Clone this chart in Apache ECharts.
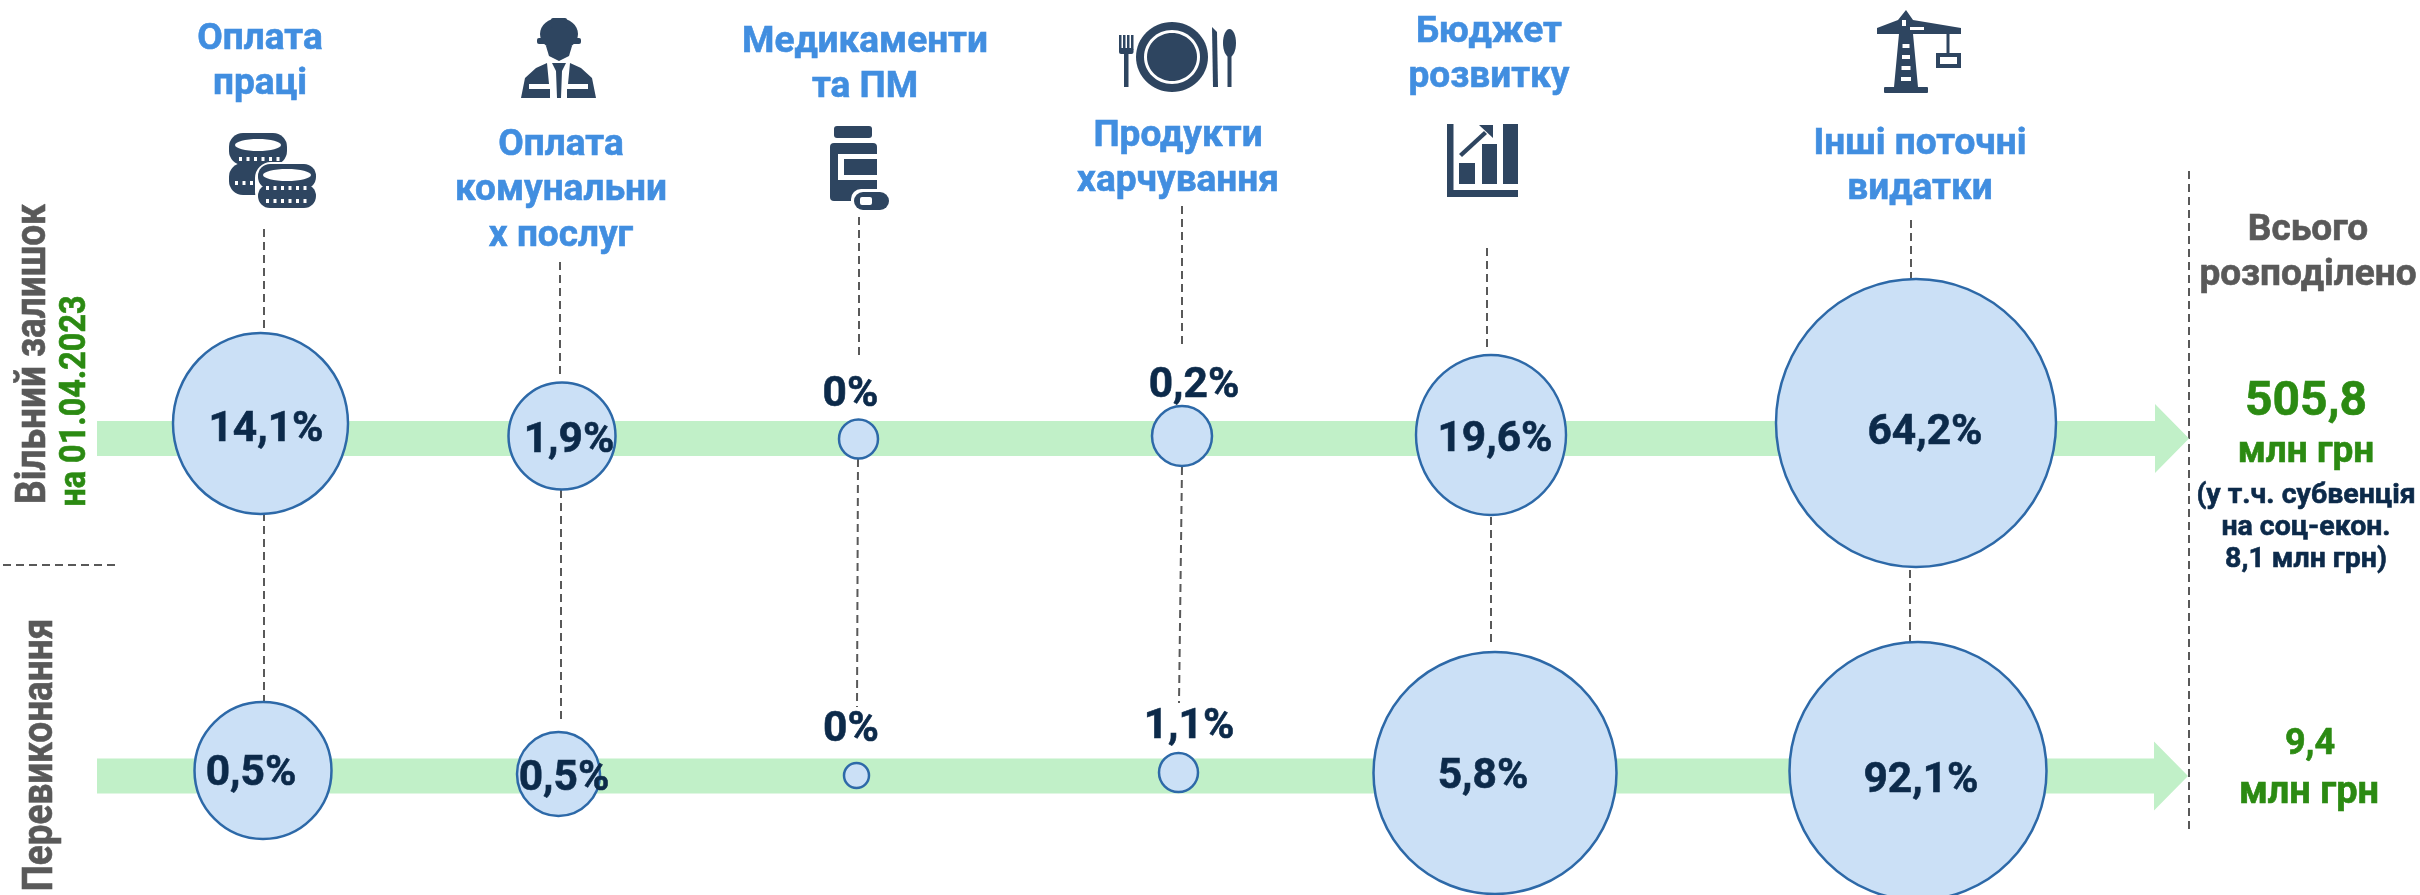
<!DOCTYPE html>
<html>
<head>
<meta charset="utf-8">
<style>
  html, body { margin: 0; padding: 0; background: #fff; }
  #chart { width: 2420px; height: 895px; }
</style>
<script src="https://cdn.jsdelivr.net/npm/echarts@6/dist/echarts.min.js"></script>
</head>
<body>
<div id="chart"></div>
<script>
// данные
const categories = ['Оплата\nпраці', 'Оплата\nкомунальни\nх послуг', 'Медикаменти\nта ПМ', 'Продукти\nхарчування', 'Бюджет\nрозвитку', 'Інші поточні\nвидатки']
const rowNames = ['Вільний залишок', 'Перевиконання']
const surplusShares = [14.1, 1.9, 0, 0.2, 19.6, 64.2]
const overShares = [0.5, 0.5, 0, 1.1, 5.8, 92.1]
const allocated = [505.8, 9.4]

// розкладка: кола в оригіналі розставлені вручну, їх розмір не пропорційний значенню
const bubbleX = [[260.5, 562, 858.5, 1182, 1491, 1916], [263, 558.5, 856.5, 1178.5, 1495, 1918]]
const bubbleY = [[423.5, 436, 439, 436, 435, 423], [770.5, 774, 775.5, 772.5, 773, 771]]
const bubbleW = [[175, 107, 39, 60, 150, 280], [137, 83, 25, 39, 243, 257]]
const bubbleH = [[181, 107, 39, 60, 160, 288], [137, 84, 25, 39, 242, 258]]
const labelX = [[266, 569, 850.5, 1194, 1495, 1925], [251, 564, 851, 1189, 1483, 1921]]
const labelY = [[430, 441, 395, 386, 440, 433], [774, 779, 730, 727, 777, 781]]
const rowY = [438.5, 776]
const arrowFrom = 97
const arrowBase = [2155, 2154]
const arrowTip = [2189, 2188]
const headerX = [260, 561, 865, 1178, 1489, 1920]
const headerY = [62, 191, 65, 159, 55, 167]

const blue = '#418ee0'
const navy = '#0c2a4a'
const grey = '#595959'
const green = '#2b8a12'
const iconColor = '#2e4560'
const font = 'Roboto, sans-serif'

const fmtNum = v => String(v).replace('.', ',')

function bubbleSeries(shares, r) {
  return {
    type: 'scatter',
    clip: false,
    z: 3,
    itemStyle: { color: '#cbe0f6', borderColor: '#2d69a8', borderWidth: 2.5, opacity: 1 },
    data: shares.map((v, i) => ({
      value: [bubbleX[r][i], rowNames[r], v],
      symbolSize: [bubbleW[r][i], bubbleH[r][i]],
      symbolOffset: [0, bubbleY[r][i] - rowY[r]],
      label: {
        show: true,
        position: 'inside',
        offset: [labelX[r][i] - bubbleX[r][i], labelY[r][i] - bubbleY[r][i]],
        formatter: fmtNum(v) + '%',
        color: navy,
        textBorderColor: navy,
        textBorderWidth: 0.6,
        fontFamily: font,
        fontWeight: 'bold',
        fontSize: 42.5
      }
    }))
  }
}

function arrowItem(params, api) {
  const r = params.dataIndex
  const row = api.value(1)
  const start = api.coord([arrowFrom, row])
  const base = api.coord([arrowBase[r], row])
  const tip = api.coord([arrowTip[r], row])
  const y = start[1]
  return {
    type: 'polygon',
    shape: { points: [
      [start[0], y - 17.5], [base[0], y - 17.5], [base[0], y - 34.5], [tip[0], y],
      [base[0], y + 34.5], [base[0], y + 17.5], [start[0], y + 17.5]
    ] },
    style: { fill: '#c1f0c8' }
  }
}

// підписи
function txt(text, x, y, size, color, extra, lineHeight) {
  return Object.assign({
    type: 'text', x, y, z: 10,
    style: {
      text, align: 'center', verticalAlign: 'middle', fill: color, stroke: color, lineWidth: 0.6,
      font: `bold ${size}px ${font}`, lineHeight: lineHeight || Math.round(size * 1.25)
    }
  }, extra || {})
}

function dash(x1, y1, x2, y2) {
  return {
    type: 'line', z: 1,
    shape: { x1, y1, x2, y2 },
    style: { stroke: grey, lineWidth: 2, lineDash: [8, 5] }
  }
}

// примітиви для іконок
const rect = (x, y, width, height, r, fill) => ({ type: 'rect', shape: { x, y, width, height, r: r || 0 }, style: { fill: fill || iconColor } })
const poly = (points, fill) => ({ type: 'polygon', shape: { points }, style: { fill: fill || iconColor } })
const ell = (cx, cy, rx, ry, fill) => ({ type: 'ellipse', shape: { cx, cy, rx, ry }, style: { fill: fill || iconColor } })
const icon = (x, y, children) => ({ type: 'group', x, y, z: 5, children })

function coinDots(x0, y, n) {
  const out = []
  for (let i = 0; i < n; i++) out.push(rect(x0 + i * 7.5, y, 3, 4, 0, '#fff'))
  return out
}

const coinsIcon = icon(229, 133, [
  rect(0, 0, 58, 32, 14), ell(29, 12, 23, 6, '#fff'), ...coinDots(10, 24, 6),
  rect(0, 30, 58, 32, 14), ...coinDots(6, 48, 3),
  rect(26, 29, 61, 46, 16, '#fff'),
  rect(29, 31, 58, 25, 12), rect(29, 51, 58, 24, 12),
  ell(58, 42, 24, 6, '#fff'), ...coinDots(37, 53, 6), ...coinDots(37, 66, 6)
])

const workerIcon = icon(521, 18, [
  ell(38, 16, 19, 16), rect(30, 0, 16, 10, 2), rect(16, 20, 44, 6, 2),
  poly([[25, 28], [51, 28], [48, 38], [38, 43], [28, 38]]),
  poly([[0, 80], [4, 60], [15, 50], [26, 45], [28, 66], [8, 66], [8, 71], [29, 71], [29, 80]]),
  poly([[75, 80], [71, 60], [60, 50], [49, 45], [47, 66], [67, 66], [67, 71], [46, 71], [46, 80]]),
  poly([[31, 45], [45, 45], [41, 53], [40, 80], [36, 80], [35, 53]])
])

const bottleIcon = icon(830, 126, [
  rect(4, 0, 38, 12, 3), rect(0, 17, 47, 58, 4),
  rect(8, 28, 39, 26, 0, '#fff'), rect(14, 33, 33, 16),
  rect(21, 63, 38, 22, 10, '#fff'), rect(24, 66, 35, 18, 9), rect(30, 71, 12, 8, 2, '#fff')
])

const plateIcon = icon(1119, 22, [
  ell(53, 35, 36, 35), ell(53, 35, 28, 27, '#fff'), ell(53, 35, 25, 24),
  rect(0, 13, 2.5, 15), rect(4, 13, 2.5, 15), rect(8, 13, 2.5, 15), rect(12, 13, 2.5, 15),
  rect(0, 26, 14.5, 6, 2), rect(5, 30, 4.5, 35),
  poly([[93, 5], [98, 10], [99, 65], [94, 65]]),
  ell(110.5, 21, 6.5, 14), rect(108.5, 30, 4, 35)
])

const chartIcon = icon(1447, 124, [
  rect(0, 0, 6.5, 73), rect(0, 66, 71, 7),
  rect(12, 39, 16, 21), rect(35, 20, 15, 40), rect(56, 0, 15, 60),
  poly([[12, 30], [37, 7], [40, 10], [15, 33]]), poly([[32, 1], [46, 1], [46, 14]])
])

const craneIcon = icon(1877, 10, [
  poly([[29, 0], [36, 10], [84, 18], [84, 24], [0, 24], [0, 18], [21, 10]]),
  poly([[22, 24], [36, 24], [41, 77], [17, 77]]),
  rect(7, 77, 44, 6, 1),
  rect(25, 10, 4, 6, 0, '#fff'), rect(33, 17, 14, 3, 0, '#fff'),
  rect(25.5, 34, 7, 4, 0, '#fff'), rect(25, 45, 8, 4, 0, '#fff'), rect(24.5, 56, 9, 4, 0, '#fff'), rect(24, 67, 10, 4, 0, '#fff'),
  rect(69.5, 24, 3, 20), rect(59, 43, 25, 15), rect(63, 47, 17, 7, 0, '#fff')
])

const leaders = [
  dash(264, 229, 264, 332), dash(264, 513, 264, 702),
  dash(560, 262, 560, 377), dash(561, 490, 561, 722),
  dash(859, 217, 859, 358), dash(858, 459, 857, 707),
  dash(1182, 206, 1182, 348), dash(1182, 467, 1179, 703),
  dash(1487, 248, 1487, 350), dash(1491, 517, 1491, 646),
  dash(1911, 220, 1911, 279), dash(1910, 570, 1910, 642),
  dash(2189, 171, 2189, 833),
  dash(3, 565, 119, 565)
]

const rot = { rotation: Math.PI / 2, scaleX: 0.88 }

const texts = [
  ...categories.map((c, i) => txt(c, headerX[i], headerY[i], 37, blue, null, 45.5)),
  txt(rowNames[0], 34, 354, 42, grey, rot),
  txt('на 01.04.2023', 76, 401, 36, green, { rotation: Math.PI / 2, scaleX: 0.9 }),
  txt(rowNames[1], 41, 755, 42, grey, rot),
  txt('Всього\nрозподілено', 2308, 253, 37, grey, null, 45.5),
  txt(fmtNum(allocated[0]), 2306, 403, 48, green),
  txt('млн грн', 2306, 453, 37, green),
  txt('(у т.ч. субвенція\nна соц-екон.\n8,1 млн грн)', 2306, 528, 28.5, navy, null, 32),
  txt(fmtNum(allocated[1]), 2310, 745, 36, green),
  txt('млн грн', 2309, 793, 38, green)
]

const chart = echarts.init(document.getElementById('chart'), null, { renderer: 'canvas' })
chart.setOption({
  animation: false,
  backgroundColor: '#fff',
  grid: { left: 0, right: 0, top: rowY[0], bottom: 895 - rowY[1] },
  xAxis: { type: 'value', min: 0, max: 2420, show: false },
  yAxis: { type: 'category', data: rowNames, inverse: true, boundaryGap: false, show: false },
  series: [
    {
      type: 'custom',
      clip: false,
      z: 2,
      silent: true,
      encode: { x: 0, y: 1 },
      data: rowNames.map((name, r) => [arrowFrom, name, arrowTip[r]]),
      renderItem: arrowItem
    },
    bubbleSeries(surplusShares, 0),
    bubbleSeries(overShares, 1)
  ],
  graphic: { elements: [...leaders, coinsIcon, workerIcon, bottleIcon, plateIcon, chartIcon, craneIcon, ...texts] }
})
</script>
</body>
</html>
